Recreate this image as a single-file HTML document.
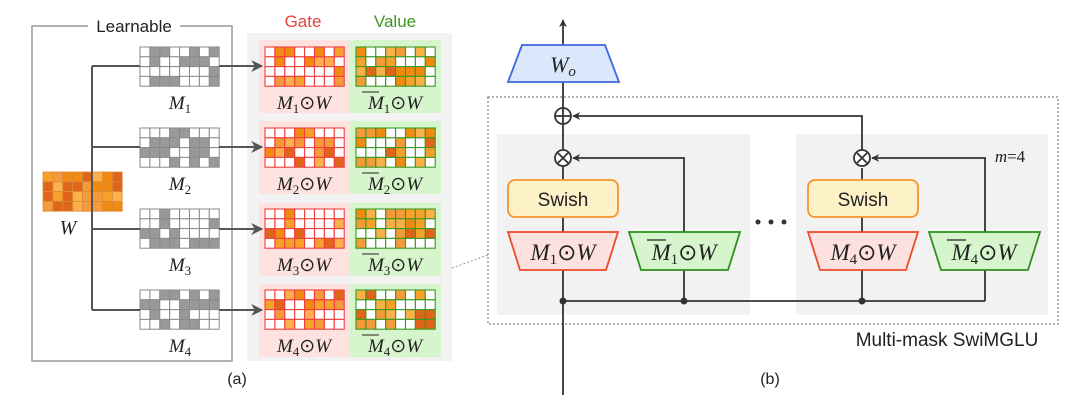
<!DOCTYPE html>
<html><head><meta charset="utf-8"><style>
html,body{margin:0;padding:0;background:#fff;}
svg{display:block}
text{font-family:"Liberation Sans",sans-serif;}
text.m{font-family:"Liberation Serif",serif;font-style:italic;}
</style></head><body>
<svg id="s" width="1080" height="401" viewBox="0 0 1080 401" xmlns="http://www.w3.org/2000/svg">
<defs>
<marker id="ar" viewBox="0 0 10 10" refX="9" refY="5" markerWidth="8" markerHeight="8" orient="auto-start-reverse" markerUnits="userSpaceOnUse"><path d="M0,0 L10,5 L0,10 L3,5 z" fill="#333"/></marker>
<marker id="ar2" viewBox="0 0 10 10" refX="9" refY="5" markerWidth="12" markerHeight="12" orient="auto" markerUnits="userSpaceOnUse"><path d="M0,0 L10,5 L0,10 L3,5 z" fill="#555"/></marker>
</defs>
<!-- (a) -->
<rect x="32" y="26" width="200" height="335" fill="none" stroke="#999" stroke-width="1.5"/>
<rect x="88" y="16" width="92" height="20" fill="#fff"/>
<text x="134" y="32" font-size="17" text-anchor="middle" fill="#222">Learnable</text>
<rect x="247" y="33" width="205" height="328" fill="#f2f2f2"/>
<text x="303" y="27" font-size="17" text-anchor="middle" fill="#e8413c">Gate</text>
<text x="395" y="27" font-size="17" text-anchor="middle" fill="#3a9a1e">Value</text>
<g id="a"></g>
<path d="M92,172 V310 M92,66 V172" stroke="#555" stroke-width="2" fill="none"/>
<text x="237" y="384" font-size="16" text-anchor="middle" fill="#222">(a)</text>

<!-- (b) -->
<rect x="488" y="97" width="570" height="227" fill="none" stroke="#999" stroke-width="1.5" stroke-dasharray="2,2"/>
<path d="M452,268 L488,255" stroke="#999" stroke-dasharray="2,2"/>
<rect x="497" y="134" width="253" height="181" fill="#f2f2f2"/>
<rect x="796" y="134" width="252" height="181" fill="#f2f2f2"/>
<text x="1010" y="162" font-size="17" class="m" text-anchor="middle" fill="#222">m<tspan font-style="normal">=4</tspan></text>
<g stroke="#333" stroke-width="1.8" fill="none">
<path d="M563,395 V20" marker-end="url(#ar)"/>
<path d="M862,158 V116 H573" marker-end="url(#ar)"/>
<path d="M684,301 V158 H573" marker-end="url(#ar)"/>
<path d="M985,301 V158 H872" marker-end="url(#ar)"/>
<path d="M563,301 H985"/>
<path d="M862,301 V168"/>
</g>
<g fill="#333"><circle cx="563" cy="301" r="3.5"/><circle cx="684" cy="301" r="3.5"/><circle cx="862" cy="301" r="3.5"/>
<circle cx="758" cy="222" r="2.5"/><circle cx="771" cy="222" r="2.5"/><circle cx="784" cy="222" r="2.5"/></g>
<g stroke="#333" stroke-width="1.8" fill="#fff">
<circle cx="563" cy="116" r="8"/><path d="M555,116 H571 M563,108 V124"/>
<circle cx="563" cy="158" r="8"/><path d="M558,153 L568,163 M568,153 L558,163"/>
<circle cx="862" cy="158" r="8"/><path d="M857,153 L867,163 M867,153 L857,163"/>
</g>
<polygon points="522,45 605,45 619,82 508,82" fill="#dbe8fb" stroke="#3b66e0" stroke-width="1.8"/>
<text x="563" y="72" font-size="22" class="m" text-anchor="middle" fill="#222">W<tspan font-size="15" dy="4">o</tspan></text>

<rect x="508" y="180" width="110" height="37" rx="7" fill="#fdf1c8" stroke="#f3952a" stroke-width="1.8"/>
<text x="563" y="206" font-size="19" text-anchor="middle" fill="#222">Swish</text>
<rect x="808" y="180" width="110" height="37" rx="7" fill="#fdf1c8" stroke="#f3952a" stroke-width="1.8"/>
<text x="863" y="206" font-size="19" text-anchor="middle" fill="#222">Swish</text>

<polygon points="508,232 618,232 606,270 520,270" fill="#fde1de" stroke="#ee4a2a" stroke-width="1.8"/>
<polygon points="629,232 740,232 728,270 641,270" fill="#d6f5cc" stroke="#2e8f1e" stroke-width="1.8"/>
<polygon points="808,232 918,232 906,270 820,270" fill="#fde1de" stroke="#ee4a2a" stroke-width="1.8"/>
<polygon points="929,232 1040,232 1028,270 941,270" fill="#d6f5cc" stroke="#2e8f1e" stroke-width="1.8"/>
<text class="m" font-size="23" text-anchor="middle" fill="#222" x="563" y="260">M<tspan font-size="15" dy="4" font-style="normal">1</tspan><tspan dy="-4" font-style="normal">⊙</tspan>W</text>
<text class="m" font-size="23" text-anchor="middle" fill="#222" x="684" y="260">M<tspan font-size="15" dy="4" font-style="normal">1</tspan><tspan dy="-4" font-style="normal">⊙</tspan>W</text>
<text class="m" font-size="23" text-anchor="middle" fill="#222" x="863" y="260">M<tspan font-size="15" dy="4" font-style="normal">4</tspan><tspan dy="-4" font-style="normal">⊙</tspan>W</text>
<text class="m" font-size="23" text-anchor="middle" fill="#222" x="984" y="260">M<tspan font-size="15" dy="4" font-style="normal">4</tspan><tspan dy="-4" font-style="normal">⊙</tspan>W</text>
<path d="M647,240 H666 M947,240 H966" stroke="#222" stroke-width="1.2"/>
<text x="947" y="346" font-size="19" text-anchor="middle" fill="#222">Multi-mask SwiMGLU</text>
<text x="770" y="384" font-size="16" text-anchor="middle" fill="#222">(b)</text>
</svg>
<script>
var seed=7;function r(){seed=(seed*16807)%2147483647;return seed/2147483647;}
var NS="http://www.w3.org/2000/svg",g=document.getElementById("a");
function el(t,a){var e=document.createElementNS(NS,t);for(var k in a)e.setAttribute(k,a[k]);g.appendChild(e);return e;}
var oranges=["#f7a12a","#f08a10","#fbb04a","#e0651a","#f59a3a"];
var cw=9.9,ch=9.8;
for(var i=0;i<4;i++)for(var j=0;j<8;j++)el("rect",{x:43+j*cw,y:172+i*ch,width:cw,height:ch,fill:oranges[Math.floor(r()*5)],stroke:"#d98a3a","stroke-width":0.8});
var t=el("text",{x:68,y:234,"font-size":20,"class":"m","text-anchor":"middle",fill:"#222"});t.textContent="W";
var ys=[47,128,209,290],ay=[66,147,229,310],py=[40,121,203,284];
for(var k=0;k<4;k++){
  var y=ys[k];
  el("rect",{x:259,y:py[k],width:91,height:73,fill:"#fde2e0"});
  el("rect",{x:350,y:py[k],width:91,height:73,fill:"#d6f5cc"});
  for(var i=0;i<4;i++)for(var j=0;j<8;j++){
    var m=r()<0.45, c=oranges[Math.floor(r()*5)];
    el("rect",{x:140+j*cw,y:y+i*ch,width:cw,height:ch,fill:m?"#999":"#fff",stroke:"#8a8a8a","stroke-width":1});
    el("rect",{x:265+j*cw,y:y+i*ch,width:cw,height:ch,fill:m?c:"#fff",stroke:"#ef4040","stroke-width":1.1});
    el("rect",{x:356+j*cw,y:y+i*ch,width:cw,height:ch,fill:m?"#fff":c,stroke:"#3a9a22","stroke-width":1.1});
  }
  el("path",{d:"M92,"+ay[k]+" H140",stroke:"#555","stroke-width":2,fill:"none"});
  el("path",{d:"M219,"+ay[k]+" H262",stroke:"#555","stroke-width":2,fill:"none","marker-end":"url(#ar2)"});
  var n=k+1;
  var a=el("text",{x:180,y:y+62,"font-size":19,"class":"m","text-anchor":"middle",fill:"#222"});
  a.innerHTML='M<tspan font-size="13" dy="4" font-style="normal">'+n+'</tspan>';
  var b=el("text",{x:304,y:y+62,"font-size":19,"class":"m","text-anchor":"middle",fill:"#222"});
  b.innerHTML='M<tspan font-size="13" dy="4" font-style="normal">'+n+'</tspan><tspan dy="-4" font-style="normal">⊙</tspan>W';
  var c2=el("text",{x:395,y:y+62,"font-size":19,"class":"m","text-anchor":"middle",fill:"#222"});
  c2.innerHTML='M<tspan font-size="13" dy="4" font-style="normal">'+n+'</tspan><tspan dy="-4" font-style="normal">⊙</tspan>W';
  el("path",{d:"M362,"+(y+45)+" H379",stroke:"#222","stroke-width":1.1});
}
</script>
</body></html>
